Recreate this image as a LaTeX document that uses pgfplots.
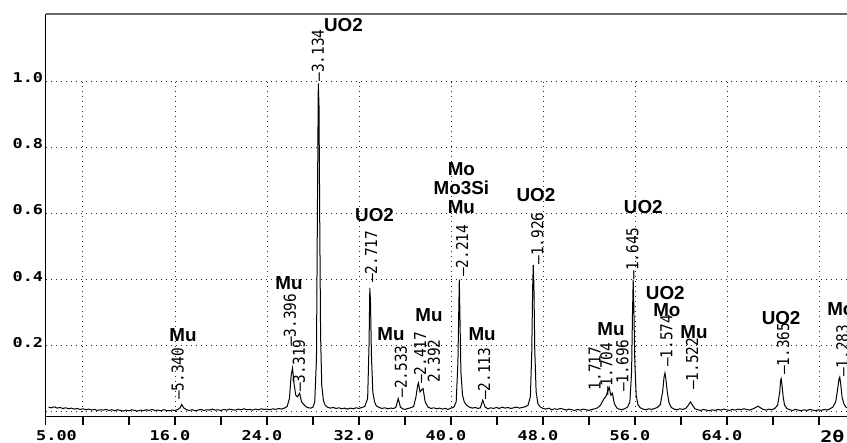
\documentclass[border=0pt]{standalone}
\usepackage{fontspec}
\usepackage{pgfplots}
\pgfplotsset{compat=1.18}
\setmainfont{Liberation Sans}
\newfontfamily\annfont{Liberation Sans}
\newfontfamily\tickfont{DejaVu Sans Mono}[FakeStretch=1.25]
\newfontfamily\dfont{DejaVu Sans Mono}[FakeStretch=0.88]
\tikzset{
  ann/.style={font={\annfont\fontsize{18.8}{18}\selectfont\bfseries}, inner sep=0pt, anchor=base},
  dl/.style={font={\dfont\fontsize{16.4}{18}\selectfont}, rotate=90, anchor=west, inner sep=0pt},
  tl/.style={font={\tickfont\fontsize{13.5}{14}\selectfont\bfseries}, inner sep=0pt},
  gridl/.style={black!85, line width=1pt, dash pattern=on 1.1pt off 3.9pt},
}
\begin{document}
\begin{tikzpicture}
\begin{axis}[at={(0,0)}, anchor=south west, scale only axis,
  width=801.3pt, height=402.7pt,
  xmin=4.757, xmax=74.43, ymin=-0.015, ymax=1.205, clip=false,
  axis line style={draw=none},
  xtick={8,12,16,20,24,28,32,36,40,44,48,52,56,60,64,68,72},
  xticklabels={}, xtick pos=bottom, tick align=outside,
  major tick length=8pt, xtick style={black, line width=1.2pt},
  ytick=\empty]
\pgfplotsinvokeforeach{8,16,24,32,40,48,56,64,72}{\draw[gridl] (axis cs:#1,-0.015) -- (axis cs:#1,1.0);}
\pgfplotsinvokeforeach{0,0.2,0.4,0.6,0.8,1.0}{\draw[gridl] (axis cs:4.757,#1) -- (axis cs:74.43,#1);}
\addplot[black, line width=1pt] coordinates {
(5.00,.014)(5.25,.012)(5.50,.015)(5.75,.011)(6.00,.013)(6.25,.010)(6.50,.012)(6.75,.009)
(7.00,.011)(7.25,.008)(7.50,.010)(7.75,.007)(8.00,.009)(8.25,.006)(8.50,.008)(8.75,.005)
(9.00,.007)(9.25,.004)(9.50,.006)(9.75,.005)(10.00,.007)(10.25,.004)(10.50,.006)(10.75,.003)
(11.00,.006)(11.25,.004)(11.50,.002)(11.75,.005)(12.00,.003)(12.25,.006)(12.50,.004)(12.75,.002)
(13.00,.005)(13.25,.003)(13.50,.006)(13.75,.004)(14.00,.007)(14.25,.004)(14.50,.005)(14.75,.003)
(15.00,.006)(15.25,.004)(15.50,.003)(15.75,.005)(16.00,.004)(16.25,.007)(16.45,.012)(16.59,.022)
(16.75,.012)(17.00,.006)(17.25,.004)(17.50,.006)(17.75,.003)(18.00,.005)(18.25,.007)(18.50,.004)
(18.75,.006)(19.00,.005)(19.25,.008)(19.50,.005)(19.75,.006)(20.00,.004)(20.25,.007)(20.50,.005)
(20.75,.008)(21.00,.006)(21.25,.005)(21.50,.008)(21.75,.006)(22.00,.009)(22.25,.006)(22.50,.007)
(22.75,.005)(23.00,.008)(23.25,.006)(23.50,.009)(23.75,.007)(24.00,.008)(24.25,.006)(24.50,.009)
(24.75,.007)(25.00,.010)(25.25,.008)(25.50,.011)(25.75,.016)(25.95,.040)(26.10,.110)(26.22,.132)
(26.35,.085)(26.50,.050)(26.65,.045)(26.84,.056)(27.00,.030)(27.20,.022)(27.40,.015)(27.60,.012)
(27.80,.011)(28.00,.014)(28.15,.030)(28.30,.160)(28.40,.700)(28.46,.995)(28.52,.930)(28.58,.600)
(28.66,.230)(28.76,.080)(28.90,.035)(29.05,.020)(29.25,.014)(29.50,.011)(29.75,.013)(30.00,.010)
(30.25,.012)(30.50,.009)(30.75,.011)(31.00,.008)(31.25,.011)(31.50,.009)(31.75,.012)(32.00,.010)
(32.25,.013)(32.50,.016)(32.75,.040)(32.87,.200)(32.94,.375)(33.00,.330)(33.08,.170)(33.20,.060)
(33.35,.030)(33.50,.018)(33.75,.013)(34.00,.010)(34.25,.012)(34.50,.009)(34.75,.011)(35.00,.010)
(35.20,.013)(35.41,.040)(35.60,.014)(35.80,.009)(36.00,.007)(36.25,.010)(36.50,.012)(36.75,.016)
(36.95,.045)(37.10,.080)(37.17,.087)(37.30,.060)(37.45,.066)(37.57,.070)(37.75,.030)(38.00,.014)
(38.25,.010)(38.50,.012)(38.75,.009)(39.00,.011)(39.25,.008)(39.50,.010)(39.75,.007)(40.00,.011)
(40.25,.014)(40.45,.030)(40.60,.150)(40.67,.300)(40.72,.400)(40.78,.280)(40.86,.120)(41.00,.050)
(41.15,.030)(41.35,.020)(41.60,.014)(41.85,.011)(42.10,.013)(42.35,.010)(42.55,.012)(42.76,.035)
(42.95,.015)(43.20,.009)(43.45,.012)(43.70,.010)(43.95,.013)(44.20,.010)(44.45,.014)(44.70,.011)
(44.95,.013)(45.20,.010)(45.45,.012)(45.70,.014)(45.95,.011)(46.20,.013)(46.45,.015)(46.70,.020)
(46.90,.045)(47.02,.180)(47.10,.380)(47.15,.445)(47.21,.380)(47.28,.190)(47.40,.060)(47.55,.025)
(47.75,.015)(48.00,.010)(48.25,.008)(48.50,.011)(48.75,.006)(49.00,.009)(49.25,.007)(49.50,.010)
(49.75,.008)(50.00,.005)(50.25,.008)(50.50,.006)(50.75,.004)(51.00,.007)(51.25,.005)(51.50,.008)
(51.75,.006)(52.00,.004)(52.25,.007)(52.50,.009)(52.75,.012)(53.00,.020)(53.15,.030)(53.31,.040)
(53.45,.045)(53.60,.060)(53.75,.074)(53.90,.050)(54.03,.056)(54.20,.025)(54.40,.012)(54.60,.008)
(54.85,.006)(55.10,.009)(55.35,.014)(55.55,.030)(55.70,.120)(55.78,.300)(55.84,.400)(55.90,.310)
(55.98,.150)(56.10,.050)(56.25,.022)(56.45,.012)(56.70,.008)(56.95,.006)(57.20,.009)(57.45,.007)
(57.70,.010)(57.95,.013)(58.20,.022)(58.40,.060)(58.52,.105)(58.60,.117)(58.68,.100)(58.80,.060)
(58.95,.028)(59.15,.013)(59.40,.008)(59.65,.006)(59.90,.009)(60.15,.007)(60.40,.010)(60.60,.018)
(60.81,.030)(61.00,.020)(61.20,.009)(61.45,.006)(61.70,.004)(61.95,.007)(62.20,.005)(62.45,.003)
(62.70,.006)(62.95,.004)(63.20,.007)(63.45,.005)(63.70,.008)(63.95,.006)(64.20,.004)(64.45,.007)
(64.70,.005)(64.95,.008)(65.20,.006)(65.45,.009)(65.70,.007)(65.95,.005)(66.20,.008)(66.45,.012)
(66.70,.017)(66.90,.012)(67.15,.007)(67.40,.005)(67.65,.008)(67.90,.006)(68.15,.010)(68.40,.020)
(68.58,.060)(68.66,.095)(68.71,.100)(68.78,.080)(68.88,.045)(69.00,.020)(69.20,.010)(69.45,.006)
(69.70,.004)(69.95,.007)(70.20,.005)(70.45,.003)(70.70,.006)(70.95,.004)(71.20,.007)(71.45,.005)
(71.70,.003)(71.95,.006)(72.20,.004)(72.45,.007)(72.70,.005)(72.95,.009)(73.20,.014)(73.45,.030)
(73.62,.070)(73.74,.100)(73.80,.105)(73.88,.085)(74.00,.045)(74.15,.025)(74.30,.015)(74.43,.012)
};
% frame
\draw[black, line width=1.6pt] (axis cs:4.757,-0.0392) -- (axis cs:4.757,1.205);
\draw[black!60, line width=2pt] (axis cs:4.757,1.205) -- (axis cs:74.43,1.205);
\draw[black, line width=1.6pt] (axis cs:4.757,-0.015) -- (axis cs:74.43,-0.015);
% tick labels
\node[tl, anchor=base west] at (axis cs:3.913,-0.0858) {5.00};
\pgfplotsinvokeforeach{16,24,32,40,48,56,64}{\node[tl, anchor=base, xshift=-5pt] at (axis cs:#1,-0.0858) {#1.0};}
\node[font={\tickfont\fontsize{16}{16}\selectfont\bfseries}, inner sep=0pt, anchor=base west] at (axis cs:72.09,-0.092) {2θ°};
\pgfplotsinvokeforeach{0.2,0.4,0.6,0.8}{\node[tl, anchor=base east, xshift=-2.4pt, yshift=-1.3pt] at (axis cs:4.757,#1) {#1};}
\node[tl, anchor=base east, xshift=-2.4pt, yshift=-1.3pt] at (axis cs:4.757,1.0) {1.0};
% phase annotations
\node[ann] at (axis cs:16.70,0.212) {Mu};
\node[ann] at (axis cs:25.91,0.369) {Mu};
\node[ann] at (axis cs:30.65,1.1515) {UO2};
\node[ann] at (axis cs:33.35,0.575) {UO2};
\node[ann] at (axis cs:34.78,0.217) {Mu};
\node[ann] at (axis cs:38.09,0.272) {Mu};
\node[ann] at (axis cs:40.90,0.716) {Mo};
\node[ann] at (axis cs:40.90,0.657) {Mo3Si};
\node[ann] at (axis cs:40.90,0.600) {Mu};
\node[ann] at (axis cs:42.70,0.217) {Mu};
\node[ann] at (axis cs:47.38,0.636) {UO2};
\node[ann] at (axis cs:53.91,0.232) {Mu};
\node[ann] at (axis cs:56.72,0.601) {UO2};
\node[ann] at (axis cs:58.63,0.341) {UO2};
\node[ann] at (axis cs:58.77,0.288) {Mo};
\node[ann] at (axis cs:61.13,0.223) {Mu};
\node[ann] at (axis cs:68.70,0.263) {UO2};
\node[ann, anchor=base west] at (axis cs:72.70,0.293) {Mo};
% d-spacing labels
\node[dl] at (axis cs:16.22,0.035) {–5.340};
\node[dl] at (axis cs:26.00,0.199) {–3.396};
\node[dl] at (axis cs:26.78,0.060) {–3.319};
\node[dl] at (axis cs:28.43,1.000) {–3.134};
\node[dl] at (axis cs:33.04,0.390) {–2.717};
\node[dl] at (axis cs:35.65,0.042) {–2.533};
\node[dl] at (axis cs:37.30,0.084) {–2.417};
\node[dl] at (axis cs:38.52,0.087) {2.392};
\node[dl] at (axis cs:40.96,0.408) {–2.214};
\node[dl] at (axis cs:42.87,0.035) {–2.113};
\node[dl] at (axis cs:47.52,0.445) {–1.926};
\node[dl] at (axis cs:52.48,0.065) {1.717};
\node[dl] at (axis cs:53.52,0.050) {–1.704};
\node[dl] at (axis cs:54.91,0.060) {–1.696};
\node[dl] at (axis cs:55.78,0.400) {–1.645};
\node[dl] at (axis cs:58.74,0.135) {–1.574};
\node[dl] at (axis cs:60.96,0.066) {–1.522};
\node[dl] at (axis cs:68.87,0.111) {–1.365};
\node[dl] at (axis cs:74.04,0.105) {–1.283};
\end{axis}
\pgfresetboundingbox
\path[use as bounding box] (-45.7pt,-26.3pt) rectangle (801.3pt,416.7pt);
\end{tikzpicture}
\end{document}
